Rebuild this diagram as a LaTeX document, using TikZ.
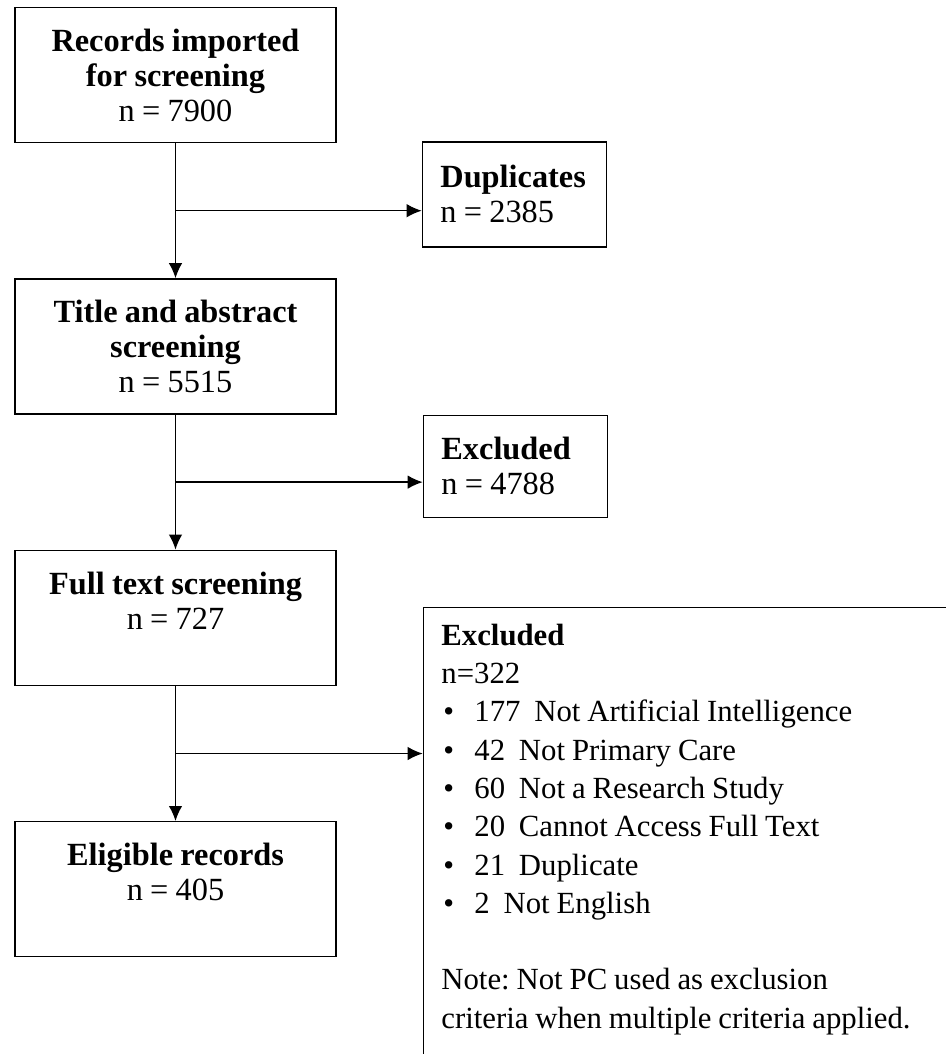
\documentclass[tikz,border=0pt]{standalone}
\usepackage{fontspec}
\setmainfont[WordSpace=0.9]{Liberation Serif}
\usetikzlibrary{arrows.meta, positioning, calc}

\newcommand{\exitem}[2]{\hspace*{0.04cm}\makebox[0.62cm][l]{\textbullet}#1~~#2}

\begin{document}
\begin{tikzpicture}[
  stagebox/.style={rectangle, draw, line width=0.8pt, minimum width=6.42cm,
    minimum height=2.7cm, align=center, font=\fontsize{18.4}{19.9}\selectfont},
  sidebox/.style={rectangle, draw, line width=0.8pt, minimum width=3.68cm,
    minimum height=2.1cm, anchor=north west, align=flush left, text width=2.96cm,
    inner xsep=0.36cm, font=\fontsize{18.4}{19.9}\selectfont},
  flow/.style={draw, line width=0.8pt, -{Latex[length=3mm, width=2.7mm]}},
  node distance=2.7cm
]
\useasboundingbox (0,0) rectangle (18.92,-21.08);
\clip (0,0) rectangle (18.92,-21.08);

\node[stagebox] (records) at (3.51,-1.5)
  {\textbf{Records imported}\\ \textbf{for screening}\\ n = 7900};
\node[stagebox, below=of records] (titleabs)
  {\textbf{Title and abstract}\\ \textbf{screening}\\ n = 5515};
\node[stagebox, below=of titleabs] (fulltext)
  {\textbf{Full text screening}\\ n = 727\\ \mbox{}};
\node[stagebox, below=of fulltext] (eligible)
  {\textbf{Eligible records}\\ n = 405\\ \mbox{}};

\node[sidebox] (dup) at ($(records.south east)+(1.70,0.04)$)
  {\textbf{Duplicates}\\ n = 2385};
\node[sidebox, minimum height=2.04cm] (excl1) at ($(titleabs.south east)+(1.72,0)$)
  {\textbf{Excluded}\\ n = 4788};
\node[draw, line width=0.8pt, anchor=north west, align=flush left, text width=12cm,
  inner xsep=0.36cm, inner ysep=0.33cm, text depth=15cm,
  font=\fontsize{17.5}{21.8}\selectfont] (excl2) at ($(fulltext.north east)+(1.72,-1.14)$)
  {\textbf{Excluded}\\ n=322\\
   \exitem{177}{Not Artificial Intelligence}\\
   \exitem{42}{Not Primary Care}\\
   \exitem{60}{Not a Research Study}\\
   \exitem{20}{Cannot Access Full Text}\\
   \exitem{21}{Duplicate}\\
   \exitem{2}{Not English}\\ \mbox{}\\
   Note:\ Not PC used as exclusion\\
   criteria when multiple criteria applied.};

\coordinate (b1) at ($(records.south)!0.5!(titleabs.north)$);
\coordinate (b2) at ($(titleabs.south)!0.5!(fulltext.north)$);
\coordinate (b3) at ($(fulltext.south)!0.5!(eligible.north)$);

\draw[flow] (records) -- (titleabs);
\draw[flow] (titleabs) -- (fulltext);
\draw[flow] (fulltext) -- (eligible);
\draw[flow] (b1) -- (b1 -| dup.west);
\draw[flow] (b2) -- (b2 -| excl1.west);
\draw[flow] (b3) -- (b3 -| excl2.west);
\end{tikzpicture}
\end{document}
